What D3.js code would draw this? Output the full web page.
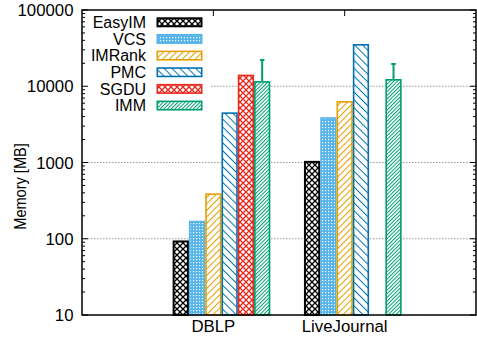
<!DOCTYPE html>
<html>
<head>
<meta charset="utf-8">
<script src="https://cdn.jsdelivr.net/npm/d3@7"></script>
<style>
  html, body { margin: 0; padding: 0; background: #fff; }
  svg { display: block; font-family: "Liberation Sans", Arial, sans-serif; }
</style>
</head>
<body>
<svg id="chart" width="477" height="343"></svg>
<script>
// data
const categories = ['DBLP', 'LiveJournal'];
const methods = ['EasyIM', 'VCS', 'IMRank', 'PMC', 'SGDU', 'IMM'];
const easyimMem = [95, 1050];
const vcsMem = [172, 3920];
const imrankMem = [394, 6400];
const pmcMem = [4550, 35800];
const sgduMem = [14200, null];
const immMem = [11700, 12450];
const immErrHigh = [22100, 19600];
const yTickValues = [10, 100, 1000, 10000, 100000];

const seriesValues = [easyimMem, vcsMem, imrankMem, pmcMem, sgduMem, immMem];
const colors = ['#000000', '#56b4e9', '#e69f00', '#0072b2', '#e8291e', '#009e73'];

const svg = d3.select('#chart');
const plot = { left: 82, right: 476, top: 10, bottom: 315 };

const x = d3.scaleLinear().domain([-1, 2]).range([plot.left, plot.right]);
const y = d3.scaleLog().domain([10, 100000]).range([plot.bottom, plot.top]);

const barStart = -0.31;
const barW = 0.124;

// patterns
const defs = svg.append('defs');

function crossHatch(id, color, size) {
  const p = defs.append('pattern').attr('id', id)
    .attr('patternUnits', 'userSpaceOnUse')
    .attr('width', size).attr('height', size);
  p.append('rect').attr('width', size).attr('height', size).attr('fill', '#fff');
  p.append('path')
    .attr('d', `M0,0L${size},${size}M0,${size}L${size},0`)
    .attr('stroke', color).attr('stroke-width', 1.3).attr('fill', 'none');
}

function hatch(id, color, spacing, angle, lw) {
  const p = defs.append('pattern').attr('id', id)
    .attr('patternUnits', 'userSpaceOnUse')
    .attr('width', spacing).attr('height', spacing)
    .attr('patternTransform', `rotate(${angle})`);
  p.append('rect').attr('width', spacing).attr('height', spacing).attr('fill', '#fff');
  p.append('line').attr('x1', 0.5).attr('y1', 0).attr('x2', 0.5).attr('y2', spacing)
    .attr('stroke', color).attr('stroke-width', lw);
}

function dots(id, color) {
  const p = defs.append('pattern').attr('id', id)
    .attr('patternUnits', 'userSpaceOnUse')
    .attr('width', 3).attr('height', 3);
  p.append('rect').attr('width', 3).attr('height', 3).attr('fill', color);
  p.append('rect').attr('x', 1).attr('y', 1).attr('width', 1.2).attr('height', 1.2).attr('fill', '#fff');
}

crossHatch('pat0', colors[0], 6);
dots('pat1', colors[1]);
hatch('pat2', colors[2], 4.6, 45, 1);
hatch('pat3', colors[3], 5.6, -45, 1);
crossHatch('pat4', colors[4], 6);
hatch('pat5', colors[5], 2.6, 45, 1);

// grid lines
svg.append('g')
  .selectAll('line')
  .data(yTickValues.slice(1, -1))
  .join('line')
  .attr('x1', plot.left).attr('x2', plot.right)
  .attr('y1', d => y(d)).attr('y2', d => y(d))
  .attr('stroke', '#999').attr('stroke-width', 1)
  .attr('stroke-dasharray', '1.5,1.5');

// bars
const barsG = svg.append('g');
seriesValues.forEach((vals, j) => {
  vals.forEach((v, i) => {
    if (v == null) return;
    const x0 = x(i + barStart + j * barW);
    const x1 = x(i + barStart + (j + 1) * barW);
    const sw = j === 0 ? 2 : 1.6;
    barsG.append('rect')
      .attr('x', x0 + sw / 2)
      .attr('y', y(v) + sw / 2)
      .attr('width', x1 - x0 - sw)
      .attr('height', y(10) - y(v) - sw / 2)
      .attr('fill', `url(#pat${j})`)
      .attr('stroke', colors[j])
      .attr('stroke-width', sw);
  });
});

// error bars for IMM
immErrHigh.forEach((e, i) => {
  const j = 5;
  const cx = x(i + barStart + (j + 0.5) * barW);
  svg.append('line')
    .attr('x1', cx).attr('x2', cx)
    .attr('y1', y(immMem[i])).attr('y2', y(e))
    .attr('stroke', colors[j]).attr('stroke-width', 2);
  svg.append('line')
    .attr('x1', cx - 2.3).attr('x2', cx + 2.3)
    .attr('y1', y(e)).attr('y2', y(e))
    .attr('stroke', colors[j]).attr('stroke-width', 2);
});

// legend
const legend = svg.append('g');
legend.append('rect')
  .attr('x', plot.left + 1).attr('y', plot.top + 1)
  .attr('width', 128).attr('height', 104)
  .attr('fill', '#fff');
methods.forEach((m, j) => {
  const cy = 22.3 + j * 16.65;
  legend.append('text')
    .attr('x', 146).attr('y', cy).attr('dy', '0.36em')
    .attr('text-anchor', 'end')
    .attr('font-size', 16)
    .text(m);
  const sw = j === 0 ? 2 : 1.6;
  legend.append('rect')
    .attr('x', 156.5 + sw / 2).attr('y', cy - 5 + sw / 2)
    .attr('width', 46 - sw).attr('height', 10 - sw)
    .attr('fill', `url(#pat${j})`)
    .attr('stroke', colors[j]).attr('stroke-width', sw);
});

// ticks
const minor = [];
yTickValues.slice(0, -1).forEach(d => {
  for (let k = 2; k <= 9; k++) minor.push(d * k);
});
const tickG = svg.append('g').attr('stroke', '#000').attr('stroke-width', 1);
yTickValues.forEach(d => {
  tickG.append('line').attr('x1', plot.left).attr('x2', plot.left + 6)
    .attr('y1', y(d)).attr('y2', y(d));
  tickG.append('line').attr('x1', plot.right).attr('x2', plot.right - 6)
    .attr('y1', y(d)).attr('y2', y(d));
});
minor.forEach(d => {
  tickG.append('line').attr('x1', plot.left).attr('x2', plot.left + 3)
    .attr('y1', y(d)).attr('y2', y(d));
  tickG.append('line').attr('x1', plot.right).attr('x2', plot.right - 3)
    .attr('y1', y(d)).attr('y2', y(d));
});
categories.forEach((c, i) => {
  tickG.append('line').attr('x1', x(i)).attr('x2', x(i))
    .attr('y1', plot.top).attr('y2', plot.top + 6);
});

// frame
svg.append('rect')
  .attr('x', plot.left).attr('y', plot.top)
  .attr('width', plot.right - plot.left).attr('height', plot.bottom - plot.top)
  .attr('fill', 'none').attr('stroke', '#000').attr('stroke-width', 1.5);

// y tick labels
svg.append('g')
  .selectAll('text')
  .data(yTickValues)
  .join('text')
  .attr('x', 73.5).attr('y', d => y(d)).attr('dy', '0.36em')
  .attr('text-anchor', 'end')
  .attr('font-size', 16.8)
  .text(d => d3.format('d')(d));

// x labels
svg.append('g')
  .selectAll('text')
  .data(categories)
  .join('text')
  .attr('x', (d, i) => x(i)).attr('y', 331.5)
  .attr('text-anchor', 'middle')
  .attr('font-size', 16.8)
  .text(d => d);

// y axis title (glyphs a bit squeezed along the text, like the reference)
svg.append('text')
  .attr('transform', 'translate(26,186.5) rotate(-90) scale(0.91,1)')
  .attr('text-anchor', 'middle')
  .attr('font-size', 16)
  .text('Memory [MB]');
</script>
</body>
</html>
